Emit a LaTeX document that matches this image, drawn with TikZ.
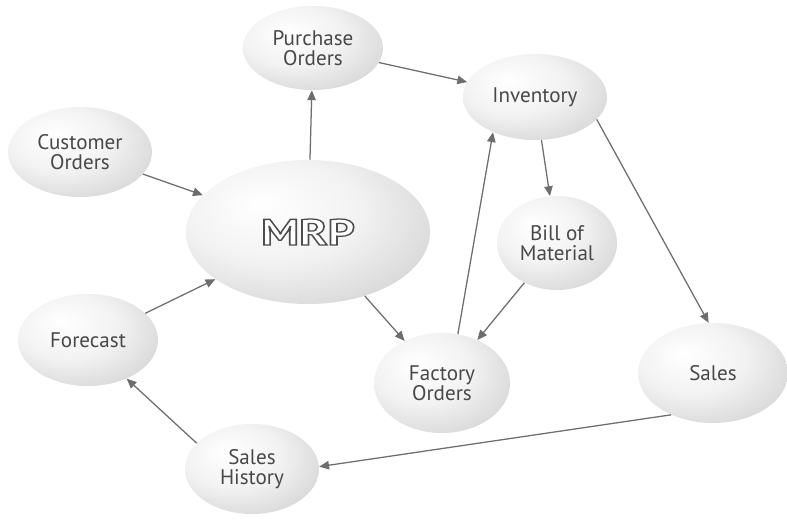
\documentclass[tikz,border=0pt]{standalone}
\usepackage{fontspec}
\setmainfont{PT Sans}
\usetikzlibrary{shapes.geometric}
\usetikzlibrary{arrows.meta}
\definecolor{BubbleText}{RGB}{72,72,72}
\definecolor{FlowGray}{RGB}{110,110,110}
\pgfdeclareradialshading{bubbleshade}{\pgfpoint{-10bp}{10bp}}{%
    color(0bp)=(white);
    color(18bp)=(gray!10);
    color(38bp)=(gray!36);
    color(50bp)=(gray!75);
    color(70bp)=(gray!80)}
% hollow letters: fill white, stroke dark gray (text render mode 2)
\newcommand{\hollowtext}[1]{\textcolor{white}{\special{pdf:code 0.3 G 2 Tr 0.9 w}#1\special{pdf:code 0 Tr 0.4 w}}}

\begin{document}
\begin{tikzpicture}[
    blob/.style={ellipse, shading=bubbleshade, inner sep=0pt, align=center,
      text=BubbleText, font=\fontsize{15}{14.5}\selectfont},
    flow/.style={-{Triangle[length=7pt,width=6pt]}, draw=FlowGray, line width=0.9pt}
  ]
    \fill[white] (0,0) rectangle (19.675,12.975);
    \useasboundingbox (0,0) rectangle (19.675,12.975);
    \node[blob, minimum width=3.5cm, minimum height=2.1cm] (PO) at (7.825,11.775) {Purchase\\Orders};
    \node[blob, minimum width=3.6cm, minimum height=2.15cm] (Inv) at (13.375,10.55) {Inventory};
    \node[blob, minimum width=3.6cm, minimum height=2.25cm] (CO) at (2.0,9.175) {Customer\\Orders};
    \node[blob, minimum width=6.1cm, minimum height=3.6cm, font=\fontsize{26}{26}\bfseries] (MRP) at (7.7,7.175)
      {\scalebox{1.3}[1]{\hollowtext{MRP}}};
    \node[blob, minimum width=3.0cm, minimum height=2.35cm] (BOM) at (13.925,6.9) {Bill of\\Material};
    \node[blob, minimum width=3.5cm, minimum height=2.3cm] (FC) at (2.2,4.475) {Forecast};
    \node[blob, minimum width=3.4cm, minimum height=2.5cm] (FO) at (11.05,3.4) {Factory\\Orders};
    \node[blob, minimum width=3.75cm, minimum height=2.5cm] (Sales) at (17.825,3.65) {Sales};
    \node[blob, minimum width=3.35cm, minimum height=2.25cm] (SH) at (6.3,1.25) {Sales\\History};

    \draw[flow] (MRP) -- (PO);
    \draw[flow] (PO) -- (Inv);
    \draw[flow] (CO) -- (MRP);
    \draw[flow] (FC.25) -- (MRP.207);
    \draw[flow] (MRP) -- (FO);
    \draw[flow] (FO.72) -- (Inv.220);
    \draw[flow] (Inv) -- (BOM);
    \draw[flow] (BOM) -- (FO);
    \draw[flow] (Inv.-20) -- (Sales.95);
    \draw[flow] (Sales.225) -- (SH.2);
    \draw[flow] (SH.155) -- (FC.-45);
\end{tikzpicture}
\end{document}
